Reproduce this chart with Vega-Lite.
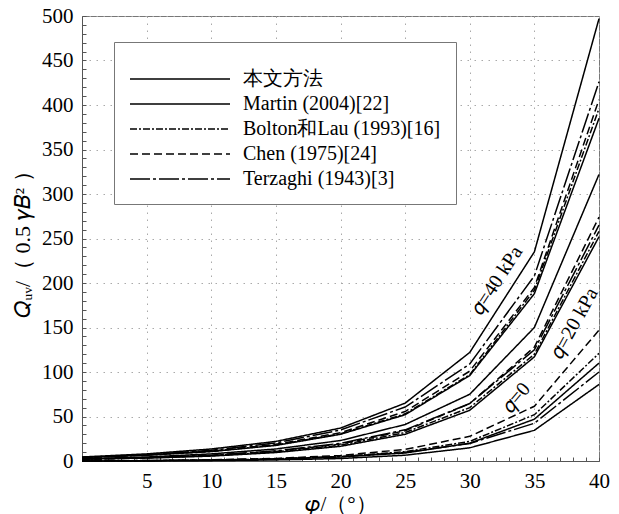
{
  "$schema": "https://vega.github.io/schema/vega-lite/v6.json",
  "width": 517,
  "height": 445,
  "autosize": {"type": "none"},
  "padding": {"left": 82, "top": 16, "right": 20, "bottom": 53},
  "background": "white",
  "config": {
    "font": "Liberation Serif",
    "view": {"stroke": "#777", "strokeWidth": 1},
    "axis": {"labelFont": "Liberation Serif", "titleFont": "Liberation Serif"},
    "legend": {"labelFont": "Liberation Serif", "titleFont": "Liberation Serif"}
  },
  "datasets": {
    "curves": [
      {"method": "本文方法", "q": 0, "phi": 0, "Q": 0}, {"method": "本文方法", "q": 0, "phi": 5, "Q": 0.3}, {"method": "本文方法", "q": 0, "phi": 10, "Q": 0.8}, {"method": "本文方法", "q": 0, "phi": 15, "Q": 2.0}, {"method": "本文方法", "q": 0, "phi": 20, "Q": 4.5}, {"method": "本文方法", "q": 0, "phi": 25, "Q": 9}, {"method": "本文方法", "q": 0, "phi": 30, "Q": 20}, {"method": "本文方法", "q": 0, "phi": 35, "Q": 47}, {"method": "本文方法", "q": 0, "phi": 40, "Q": 110},
      {"method": "Martin (2004)[22]", "q": 0, "phi": 0, "Q": 0}, {"method": "Martin (2004)[22]", "q": 0, "phi": 5, "Q": 0.1}, {"method": "Martin (2004)[22]", "q": 0, "phi": 10, "Q": 0.4}, {"method": "Martin (2004)[22]", "q": 0, "phi": 15, "Q": 1.2}, {"method": "Martin (2004)[22]", "q": 0, "phi": 20, "Q": 2.8}, {"method": "Martin (2004)[22]", "q": 0, "phi": 25, "Q": 6.5}, {"method": "Martin (2004)[22]", "q": 0, "phi": 30, "Q": 14.8}, {"method": "Martin (2004)[22]", "q": 0, "phi": 35, "Q": 34.5}, {"method": "Martin (2004)[22]", "q": 0, "phi": 40, "Q": 86},
      {"method": "Bolton和Lau (1993)[16]", "q": 0, "phi": 0, "Q": 0}, {"method": "Bolton和Lau (1993)[16]", "q": 0, "phi": 5, "Q": 0.4}, {"method": "Bolton和Lau (1993)[16]", "q": 0, "phi": 10, "Q": 1.0}, {"method": "Bolton和Lau (1993)[16]", "q": 0, "phi": 15, "Q": 2.4}, {"method": "Bolton和Lau (1993)[16]", "q": 0, "phi": 20, "Q": 5.0}, {"method": "Bolton和Lau (1993)[16]", "q": 0, "phi": 25, "Q": 10.5}, {"method": "Bolton和Lau (1993)[16]", "q": 0, "phi": 30, "Q": 22}, {"method": "Bolton和Lau (1993)[16]", "q": 0, "phi": 35, "Q": 52}, {"method": "Bolton和Lau (1993)[16]", "q": 0, "phi": 40, "Q": 121},
      {"method": "Chen (1975)[24]", "q": 0, "phi": 0, "Q": 0}, {"method": "Chen (1975)[24]", "q": 0, "phi": 5, "Q": 0.5}, {"method": "Chen (1975)[24]", "q": 0, "phi": 10, "Q": 1.3}, {"method": "Chen (1975)[24]", "q": 0, "phi": 15, "Q": 2.9}, {"method": "Chen (1975)[24]", "q": 0, "phi": 20, "Q": 6.2}, {"method": "Chen (1975)[24]", "q": 0, "phi": 25, "Q": 13}, {"method": "Chen (1975)[24]", "q": 0, "phi": 30, "Q": 27.7}, {"method": "Chen (1975)[24]", "q": 0, "phi": 35, "Q": 61.5}, {"method": "Chen (1975)[24]", "q": 0, "phi": 40, "Q": 147},
      {"method": "Terzaghi (1943)[3]", "q": 0, "phi": 0, "Q": 0}, {"method": "Terzaghi (1943)[3]", "q": 0, "phi": 5, "Q": 0.5}, {"method": "Terzaghi (1943)[3]", "q": 0, "phi": 10, "Q": 1.2}, {"method": "Terzaghi (1943)[3]", "q": 0, "phi": 15, "Q": 2.5}, {"method": "Terzaghi (1943)[3]", "q": 0, "phi": 20, "Q": 5.0}, {"method": "Terzaghi (1943)[3]", "q": 0, "phi": 25, "Q": 9.7}, {"method": "Terzaghi (1943)[3]", "q": 0, "phi": 30, "Q": 19.7}, {"method": "Terzaghi (1943)[3]", "q": 0, "phi": 35, "Q": 42.4}, {"method": "Terzaghi (1943)[3]", "q": 0, "phi": 40, "Q": 100},

      {"method": "本文方法", "q": 20, "phi": 0, "Q": 2.5}, {"method": "本文方法", "q": 20, "phi": 5, "Q": 4.5}, {"method": "本文方法", "q": 20, "phi": 10, "Q": 8}, {"method": "本文方法", "q": 20, "phi": 15, "Q": 13.5}, {"method": "本文方法", "q": 20, "phi": 20, "Q": 23}, {"method": "本文方法", "q": 20, "phi": 25, "Q": 41}, {"method": "本文方法", "q": 20, "phi": 30, "Q": 75}, {"method": "本文方法", "q": 20, "phi": 35, "Q": 150}, {"method": "本文方法", "q": 20, "phi": 40, "Q": 322},
      {"method": "Martin (2004)[22]", "q": 20, "phi": 0, "Q": 2}, {"method": "Martin (2004)[22]", "q": 20, "phi": 5, "Q": 3.3}, {"method": "Martin (2004)[22]", "q": 20, "phi": 10, "Q": 5.5}, {"method": "Martin (2004)[22]", "q": 20, "phi": 15, "Q": 9.5}, {"method": "Martin (2004)[22]", "q": 20, "phi": 20, "Q": 16.5}, {"method": "Martin (2004)[22]", "q": 20, "phi": 25, "Q": 30}, {"method": "Martin (2004)[22]", "q": 20, "phi": 30, "Q": 57}, {"method": "Martin (2004)[22]", "q": 20, "phi": 35, "Q": 117}, {"method": "Martin (2004)[22]", "q": 20, "phi": 40, "Q": 252},
      {"method": "Bolton和Lau (1993)[16]", "q": 20, "phi": 0, "Q": 2}, {"method": "Bolton和Lau (1993)[16]", "q": 20, "phi": 5, "Q": 3.5}, {"method": "Bolton和Lau (1993)[16]", "q": 20, "phi": 10, "Q": 6}, {"method": "Bolton和Lau (1993)[16]", "q": 20, "phi": 15, "Q": 10.3}, {"method": "Bolton和Lau (1993)[16]", "q": 20, "phi": 20, "Q": 17.8}, {"method": "Bolton和Lau (1993)[16]", "q": 20, "phi": 25, "Q": 32}, {"method": "Bolton和Lau (1993)[16]", "q": 20, "phi": 30, "Q": 60}, {"method": "Bolton和Lau (1993)[16]", "q": 20, "phi": 35, "Q": 120}, {"method": "Bolton和Lau (1993)[16]", "q": 20, "phi": 40, "Q": 258},
      {"method": "Chen (1975)[24]", "q": 20, "phi": 0, "Q": 2}, {"method": "Chen (1975)[24]", "q": 20, "phi": 5, "Q": 3.6}, {"method": "Chen (1975)[24]", "q": 20, "phi": 10, "Q": 6.2}, {"method": "Chen (1975)[24]", "q": 20, "phi": 15, "Q": 10.8}, {"method": "Chen (1975)[24]", "q": 20, "phi": 20, "Q": 19}, {"method": "Chen (1975)[24]", "q": 20, "phi": 25, "Q": 34}, {"method": "Chen (1975)[24]", "q": 20, "phi": 30, "Q": 64.5}, {"method": "Chen (1975)[24]", "q": 20, "phi": 35, "Q": 128}, {"method": "Chen (1975)[24]", "q": 20, "phi": 40, "Q": 274},
      {"method": "Terzaghi (1943)[3]", "q": 20, "phi": 0, "Q": 2}, {"method": "Terzaghi (1943)[3]", "q": 20, "phi": 5, "Q": 3.8}, {"method": "Terzaghi (1943)[3]", "q": 20, "phi": 10, "Q": 6.6}, {"method": "Terzaghi (1943)[3]", "q": 20, "phi": 15, "Q": 11.4}, {"method": "Terzaghi (1943)[3]", "q": 20, "phi": 20, "Q": 19.9}, {"method": "Terzaghi (1943)[3]", "q": 20, "phi": 25, "Q": 35}, {"method": "Terzaghi (1943)[3]", "q": 20, "phi": 30, "Q": 64.6}, {"method": "Terzaghi (1943)[3]", "q": 20, "phi": 35, "Q": 125}, {"method": "Terzaghi (1943)[3]", "q": 20, "phi": 40, "Q": 265},

      {"method": "本文方法", "q": 40, "phi": 0, "Q": 4.5}, {"method": "本文方法", "q": 40, "phi": 5, "Q": 8}, {"method": "本文方法", "q": 40, "phi": 10, "Q": 13.5}, {"method": "本文方法", "q": 40, "phi": 15, "Q": 22}, {"method": "本文方法", "q": 40, "phi": 20, "Q": 37}, {"method": "本文方法", "q": 40, "phi": 25, "Q": 65}, {"method": "本文方法", "q": 40, "phi": 30, "Q": 122}, {"method": "本文方法", "q": 40, "phi": 35, "Q": 235}, {"method": "本文方法", "q": 40, "phi": 40, "Q": 497},
      {"method": "Martin (2004)[22]", "q": 40, "phi": 0, "Q": 4}, {"method": "Martin (2004)[22]", "q": 40, "phi": 5, "Q": 6.5}, {"method": "Martin (2004)[22]", "q": 40, "phi": 10, "Q": 10.6}, {"method": "Martin (2004)[22]", "q": 40, "phi": 15, "Q": 17.5}, {"method": "Martin (2004)[22]", "q": 40, "phi": 20, "Q": 30}, {"method": "Martin (2004)[22]", "q": 40, "phi": 25, "Q": 52}, {"method": "Martin (2004)[22]", "q": 40, "phi": 30, "Q": 96}, {"method": "Martin (2004)[22]", "q": 40, "phi": 35, "Q": 188}, {"method": "Martin (2004)[22]", "q": 40, "phi": 40, "Q": 385},
      {"method": "Bolton和Lau (1993)[16]", "q": 40, "phi": 0, "Q": 4}, {"method": "Bolton和Lau (1993)[16]", "q": 40, "phi": 5, "Q": 6.6}, {"method": "Bolton和Lau (1993)[16]", "q": 40, "phi": 10, "Q": 10.8}, {"method": "Bolton和Lau (1993)[16]", "q": 40, "phi": 15, "Q": 18}, {"method": "Bolton和Lau (1993)[16]", "q": 40, "phi": 20, "Q": 30.5}, {"method": "Bolton和Lau (1993)[16]", "q": 40, "phi": 25, "Q": 53}, {"method": "Bolton和Lau (1993)[16]", "q": 40, "phi": 30, "Q": 97}, {"method": "Bolton和Lau (1993)[16]", "q": 40, "phi": 35, "Q": 192}, {"method": "Bolton和Lau (1993)[16]", "q": 40, "phi": 40, "Q": 396},
      {"method": "Chen (1975)[24]", "q": 40, "phi": 0, "Q": 4}, {"method": "Chen (1975)[24]", "q": 40, "phi": 5, "Q": 6.8}, {"method": "Chen (1975)[24]", "q": 40, "phi": 10, "Q": 11.2}, {"method": "Chen (1975)[24]", "q": 40, "phi": 15, "Q": 18.7}, {"method": "Chen (1975)[24]", "q": 40, "phi": 20, "Q": 31.8}, {"method": "Chen (1975)[24]", "q": 40, "phi": 25, "Q": 55.6}, {"method": "Chen (1975)[24]", "q": 40, "phi": 30, "Q": 101}, {"method": "Chen (1975)[24]", "q": 40, "phi": 35, "Q": 195}, {"method": "Chen (1975)[24]", "q": 40, "phi": 40, "Q": 406},
      {"method": "Terzaghi (1943)[3]", "q": 40, "phi": 0, "Q": 4}, {"method": "Terzaghi (1943)[3]", "q": 40, "phi": 5, "Q": 7.1}, {"method": "Terzaghi (1943)[3]", "q": 40, "phi": 10, "Q": 12}, {"method": "Terzaghi (1943)[3]", "q": 40, "phi": 15, "Q": 20.3}, {"method": "Terzaghi (1943)[3]", "q": 40, "phi": 20, "Q": 34.8}, {"method": "Terzaghi (1943)[3]", "q": 40, "phi": 25, "Q": 60.6}, {"method": "Terzaghi (1943)[3]", "q": 40, "phi": 30, "Q": 109}, {"method": "Terzaghi (1943)[3]", "q": 40, "phi": 35, "Q": 208}, {"method": "Terzaghi (1943)[3]", "q": 40, "phi": 40, "Q": 426}
    ],
    "notes": [
      {"phi": 32.1, "Q": 203, "label": "𝑞=40 kPa", "group": "q40"},
      {"phi": 38.1, "Q": 155, "label": "𝑞=20 kPa", "group": "q20"},
      {"phi": 33.6, "Q": 71, "label": "𝑞=0", "group": "q0"}
    ]
  },
  "layer": [
    {
      "data": {"name": "curves"},
      "mark": {"type": "line", "color": "black", "strokeWidth": 1.5},
      "encoding": {
        "x": {
          "field": "phi", "type": "quantitative",
          "scale": {"domain": [0, 40], "nice": false, "zero": false},
          "axis": {
            "values": [0,1,2,3,4,5,6,7,8,9,10,11,12,13,14,15,16,17,18,19,20,21,22,23,24,25,26,27,28,29,30,31,32,33,34,35,36,37,38,39,40],
            "tickCount": 1000,
            "format": "d",
            "labelExpr": "datum.value % 5 === 0 && datum.value > 0 ? datum.label : ''",
            "labelFlush": false, "labelOverlap": false, "labelBound": false,
            "labelFont": "Liberation Serif",
            "labelFontSize": 21, "labelColor": "black", "labelPadding": 13,
            "tickSize": -4, "tickColor": "#555", "tickWidth": 1,
            "domainColor": "#555",
            "grid": true,
            "gridColor": "#aaa",
            "gridOpacity": {"condition": {"test": "datum.value % 5 === 0", "value": 1}, "value": 0},
            "gridDash": [1.5, 5.5],
            "title": "𝜑/（°）", "titleFont": "Liberation Serif", "titleFontSize": 21, "titleFontWeight": "normal", "titleColor": "black", "titlePadding": 2
          }
        },
        "y": {
          "field": "Q", "type": "quantitative",
          "scale": {"domain": [0, 500], "nice": false},
          "axis": {
            "values": [0,10,20,30,40,50,60,70,80,90,100,110,120,130,140,150,160,170,180,190,200,210,220,230,240,250,260,270,280,290,300,310,320,330,340,350,360,370,380,390,400,410,420,430,440,450,460,470,480,490,500],
            "tickCount": 1000,
            "format": "d",
            "labelExpr": "datum.value % 50 === 0 ? datum.label : ''",
            "labelFlush": false, "labelOverlap": false, "labelBound": false,
            "labelFont": "Liberation Serif",
            "labelFontSize": 21, "labelColor": "black", "labelPadding": 13,
            "tickSize": -4, "tickColor": "#555", "tickWidth": 1,
            "domainColor": "#555",
            "grid": true,
            "gridColor": "#aaa",
            "gridOpacity": {"condition": {"test": "datum.value % 50 === 0", "value": 1}, "value": 0},
            "gridDash": [1.5, 5.5],
            "title": "𝑄ᵤᵥ/（ 0.5 𝛾𝐵² ）", "titleFont": "Liberation Serif", "titleFontSize": 22, "titleFontWeight": "normal", "titleColor": "black", "titlePadding": 7
          }
        },
        "strokeDash": {
          "field": "method", "type": "nominal",
          "scale": {
            "domain": ["本文方法", "Martin (2004)[22]", "Bolton和Lau (1993)[16]", "Chen (1975)[24]", "Terzaghi (1943)[3]"],
            "range": [[1, 0], [1, 0], [7, 2, 2, 2], [8, 4], [20, 3, 3, 3]]
          },
          "legend": {
            "orient": "none", "legendX": 32, "legendY": 26,
            "title": " ", "titleFontSize": 8, "titlePadding": 4,
            "symbolType": "stroke", "symbolSize": 10000, "symbolStrokeWidth": 1.5, "symbolStrokeColor": "black",
            "clipHeight": 20, "rowPadding": 5,
            "labelFontSize": 20, "labelFont": "Liberation Serif", "labelColor": "black", "labelOffset": 12, "labelLimit": 400,
            "strokeColor": "#777", "fillColor": "white", "padding": 15
          }
        },
        "detail": {"field": "q", "type": "nominal"}
      }
    },
    {
      "data": {"name": "notes"},
      "transform": [{"filter": "datum.group === 'q40'"}],
      "mark": {"type": "text", "angle": -57, "fontSize": 20, "font": "Liberation Serif", "color": "black"},
      "encoding": {
        "x": {"field": "phi", "type": "quantitative"},
        "y": {"field": "Q", "type": "quantitative"},
        "text": {"field": "label"}
      }
    },
    {
      "data": {"name": "notes"},
      "transform": [{"filter": "datum.group === 'q20'"}],
      "mark": {"type": "text", "angle": -61, "fontSize": 20, "font": "Liberation Serif", "color": "black"},
      "encoding": {
        "x": {"field": "phi", "type": "quantitative"},
        "y": {"field": "Q", "type": "quantitative"},
        "text": {"field": "label"}
      }
    },
    {
      "data": {"name": "notes"},
      "transform": [{"filter": "datum.group === 'q0'"}],
      "mark": {"type": "text", "angle": -50, "fontSize": 20, "font": "Liberation Serif", "color": "black"},
      "encoding": {
        "x": {"field": "phi", "type": "quantitative"},
        "y": {"field": "Q", "type": "quantitative"},
        "text": {"field": "label"}
      }
    }
  ]
}
